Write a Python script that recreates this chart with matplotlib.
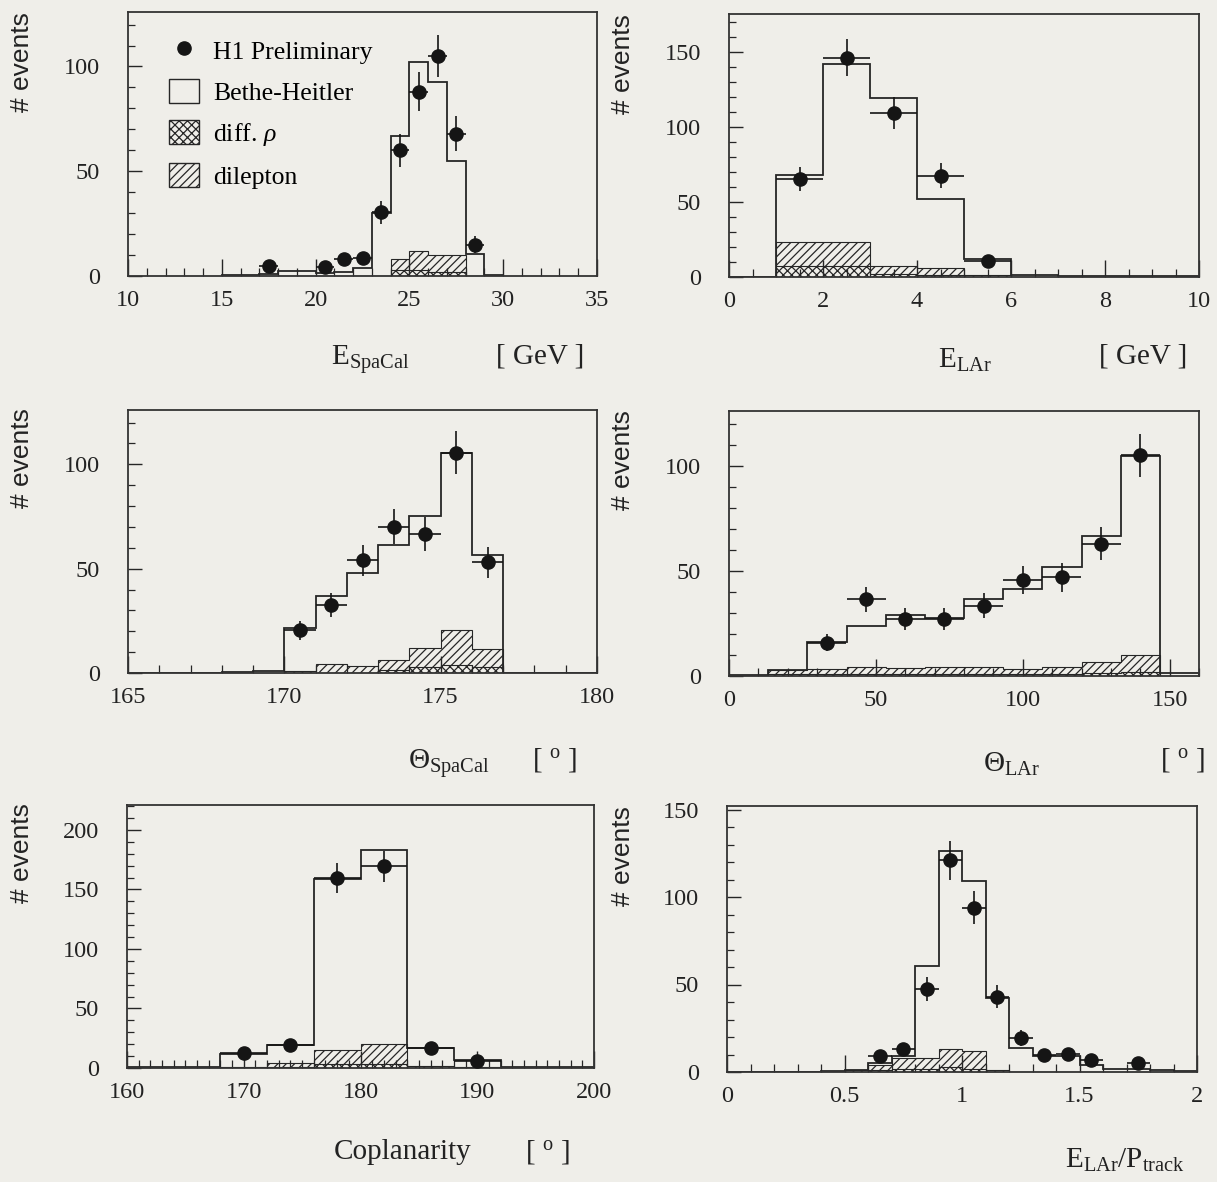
import numpy as np
import matplotlib
matplotlib.use("Agg")
import matplotlib.pyplot as plt
from matplotlib.patches import Patch
from matplotlib.lines import Line2D
from matplotlib.ticker import MultipleLocator, FormatStrFormatter

# ---- E_SpaCal [GeV] ----
espacal_edges = [15, 16, 17, 18, 19, 20, 21, 22, 23, 24, 25, 26, 27, 28, 29, 30]
espacal_mc = [0.5, 0.5, 1, 2.5, 2.5, 1.5, 2, 4, 30, 67, 102, 92.5, 55, 10.5, 0.5]
espacal_dilep = [0, 0, 0, 0, 0, 0, 0, 0, 0, 5, 9, 8, 8, 0, 0]
espacal_rho = [0, 0, 0, 0, 0, 0, 0, 0, 0, 3, 3, 2, 2, 0, 0]
espacal_x = [17.5, 20.5, 21.5, 22.5, 23.5, 24.5, 25.5, 26.5, 27.5, 28.5]
espacal_data = [5, 4.5, 8, 8.5, 30.5, 60, 88, 105, 68, 15]

# ---- E_LAr [GeV] ----
elar_edges = [0, 1, 2, 3, 4, 5, 6, 7, 8, 9, 10]
elar_mc = [0, 68, 142, 119, 52, 12, 1, 0.5, 0.5, 0.5]
elar_dilep = [0, 16, 16, 5, 5, 1, 0, 0, 0, 0]
elar_rho = [0, 7, 7, 2, 1, 0, 0, 0, 0, 0]
elar_x = [1.5, 2.5, 3.5, 4.5, 5.5]
elar_data = [65, 146, 109, 67.5, 10.5]

# ---- Theta_SpaCal [deg] ----
thspa_edges = [165, 166, 167, 168, 169, 170, 171, 172, 173, 174, 175, 176, 177, 178, 179, 180]
thspa_mc = [0, 0, 0, 0.5, 1, 21.5, 37, 48, 61.5, 75, 105.5, 56.5, 0, 0, 0]
thspa_dilep = [0, 0, 0, 0, 0, 1, 4.5, 3.5, 4.5, 9, 16.5, 8.5, 0, 0, 0]
thspa_rho = [0, 0, 0, 0, 0, 0, 0, 0, 1.5, 3, 4, 3, 0, 0, 0]
thspa_x = [170.5, 171.5, 172.5, 173.5, 174.5, 175.5, 176.5]
thspa_data = [20.5, 32.5, 54, 70, 66.5, 105.5, 53]

# ---- Theta_LAr [deg] ----
thlar_edges = [0, 13.33, 26.67, 40, 53.33, 66.67, 80, 93.33, 106.67, 120, 133.33, 146.67, 160]
thlar_mc = [0.5, 3, 16.3, 23.7, 29, 27.5, 36.8, 41.6, 51.8, 66.8, 104.5, 1.5]
thlar_dilep = [0, 2, 2.5, 3.5, 3, 3.5, 3.5, 2.5, 3.5, 5, 8, 0]
thlar_rho = [0, 1, 1, 1, 1, 1, 1, 1, 1, 1.5, 2, 0]
thlar_x = [33.33, 46.67, 60, 73.33, 86.67, 100, 113.33, 126.67, 140]
thlar_data = [15.8, 36.5, 27, 27, 33.5, 45.5, 47, 63, 105]

# ---- Coplanarity [deg] ----
copl_edges = [160, 164, 168, 172, 176, 180, 184, 188, 192, 196, 200]
copl_mc = [0.5, 0.5, 12, 19, 158.5, 183, 16.5, 7, 1, 0.5]
copl_dilep = [0, 0, 1, 3, 12, 17.5, 2, 1, 0, 0]
copl_rho = [0, 0, 0, 1, 3, 3, 0, 0, 0, 0]
copl_x = [170, 174, 178, 182, 186, 190]
copl_data = [12.5, 19, 160, 169.5, 16.5, 5.5]

# ---- E_LAr / P_track ----
ep_edges = [0, 0.1, 0.2, 0.3, 0.4, 0.5, 0.6, 0.7, 0.8, 0.9, 1.0,
            1.1, 1.2, 1.3, 1.4, 1.5, 1.6, 1.7, 1.8, 1.9, 2.0]
ep_mc = [0, 0, 0, 0, 0.5, 1, 5, 9, 60.5, 126.5, 109, 42.5, 13.5, 9, 9, 4, 2, 1.5, 1, 0.5]
ep_dilep = [0, 0, 0, 0, 0, 1, 3, 6, 6, 10, 10, 1, 0, 0, 0, 0, 0, 0, 0, 0]
ep_rho = [0, 0, 0, 0, 0, 0, 1, 2, 2, 3, 2, 0, 0, 0, 0, 0, 0, 0, 0, 0]
ep_x = [0.65, 0.75, 0.85, 0.95, 1.05, 1.15, 1.25, 1.35, 1.45, 1.55, 1.75]
ep_data = [9, 13, 47.5, 121, 94, 43, 19.5, 10, 10.5, 7, 5.3]

BG = "#efeee9"
INK = "#262626"
W, H = 1217, 1182

plt.rcParams["font.family"] = ["Liberation Serif", "DejaVu Serif"]
plt.rcParams["mathtext.fontset"] = "custom"
plt.rcParams["mathtext.rm"] = "Liberation Serif"
plt.rcParams["mathtext.it"] = "Liberation Serif:italic"
plt.rcParams["hatch.linewidth"] = 0.9
plt.rcParams["hatch.color"] = INK

fig = plt.figure(figsize=(W / 100, H / 100), dpi=100, facecolor=BG)


def px_axes(left, top, right, bottom):
    # axes box given in picture pixels
    return fig.add_axes([left / W, 1 - bottom / H, (right - left) / W, (bottom - top) / H])


def draw_panel(ax, edges, mc, dilep, rho, xd, yd, xlim, ylim, xmaj, xmin, ymin=10):
    ax.set_facecolor(BG)
    edges = np.array(edges)
    mc = np.array(mc)
    dilep = np.array(dilep)
    rho = np.array(rho)
    # dilepton (stacked on diff. rho), then diff. rho on the bottom
    ax.stairs(dilep + rho, edges, fill=True, facecolor="none", edgecolor=INK,
              hatch="////", linewidth=0.8)
    ax.stairs(rho, edges, fill=True, facecolor=BG, edgecolor=INK,
              hatch="xxxx", linewidth=0.8)
    # total (Bethe-Heitler) histogram
    ax.stairs(mc, edges, baseline=0, color=INK, linewidth=1.3)

    # data points, x error = half bin
    xd = np.array(xd)
    yd = np.array(yd)
    idx = np.searchsorted(edges, xd) - 1
    half = (edges[idx + 1] - edges[idx]) / 2
    ax.errorbar(xd, yd, yerr=np.sqrt(yd), xerr=half, fmt="o", color="#151515",
                ms=9.5, elinewidth=1.2, capsize=0, zorder=5)

    ax.set_xlim(*xlim)
    ax.set_ylim(*ylim)
    ax.xaxis.set_major_locator(MultipleLocator(xmaj))
    ax.xaxis.set_minor_locator(MultipleLocator(xmin))
    ax.xaxis.set_major_formatter(FormatStrFormatter("%g"))
    ax.yaxis.set_major_locator(MultipleLocator(50))
    ax.yaxis.set_minor_locator(MultipleLocator(ymin))
    ax.tick_params(which="both", direction="in", top=False, right=False,
                   colors=INK, labelsize=17.5, labelcolor="#222222")
    ax.tick_params(axis="x", which="major", length=12, width=1.0, pad=10)
    ax.tick_params(axis="x", which="minor", length=6, width=0.9)
    ax.tick_params(axis="y", which="major", length=10, width=1.0, pad=20)
    ax.tick_params(axis="y", which="minor", length=5, width=0.9)
    for s in ax.spines.values():
        s.set_color("#333333")
        s.set_linewidth(1.3)


def label(x, y, txt, size=20, **kw):
    fig.text(x / W, 1 - y / H, txt, fontsize=size, color="#222222",
             ha="center", va="center", **kw)


def ylabel(x, top):
    fig.text(x / W, 1 - top / H, "# events", rotation=90, fontsize=19,
             family=["Liberation Sans", "DejaVu Sans"], color="#222222",
             ha="center", va="top")


# left column 128..597, right column 729..1199
ax1 = px_axes(128, 12, 597, 276)
draw_panel(ax1, espacal_edges, espacal_mc, espacal_dilep, espacal_rho,
           espacal_x, espacal_data, (10, 35), (0, 126), 5, 1)
ax2 = px_axes(729, 14, 1199, 277)
draw_panel(ax2, elar_edges, elar_mc, elar_dilep, elar_rho,
           elar_x, elar_data, (0, 10), (0, 175), 2, 0.5)
ax3 = px_axes(128, 410, 597, 673)
draw_panel(ax3, thspa_edges, thspa_mc, thspa_dilep, thspa_rho,
           thspa_x, thspa_data, (165, 180), (0, 126), 5, 1)
ax4 = px_axes(729, 411, 1199, 676)
draw_panel(ax4, thlar_edges, thlar_mc, thlar_dilep, thlar_rho,
           thlar_x, thlar_data, (0, 160), (0, 126), 50, 10)
ax5 = px_axes(127, 805, 594, 1068)
draw_panel(ax5, copl_edges, copl_mc, copl_dilep, copl_rho,
           copl_x, copl_data, (160, 200), (0, 221), 10, 1)
ax6 = px_axes(727, 806, 1197, 1072)
draw_panel(ax6, ep_edges, ep_mc, ep_dilep, ep_rho,
           ep_x, ep_data, (0, 2), (0, 152), 0.5, 0.1)

# legend in the first panel
handles = [
    Line2D([], [], marker="o", ls="none", color="#151515", ms=9.5),
    Patch(facecolor="none", edgecolor=INK, linewidth=1.0),
    Patch(facecolor=BG, edgecolor=INK, hatch="xxxx", linewidth=1.0),
    Patch(facecolor="none", edgecolor=INK, hatch="////", linewidth=1.0),
]
names = ["H1 Preliminary", "Bethe-Heitler", r"diff. $\rho$", "dilepton"]
ax1.legend(handles, names, loc="upper left", bbox_to_anchor=(0.055, 0.96),
           frameon=False, fontsize=18.5, handlelength=1.15, handleheight=1.05,
           labelspacing=0.6, handletextpad=0.55, borderaxespad=0.2)

# axis titles
ylabel(22, 12)
ylabel(623, 14)
ylabel(22, 408)
ylabel(623, 410)
ylabel(22, 803)
ylabel(623, 806)

label(370, 360, r"E$_{\rm SpaCal}$", size=21)
label(540, 357, "[ GeV ]", size=21)
label(965, 360, r"E$_{\rm LAr}$", size=21)
label(1143, 357, "[ GeV ]", size=21)
label(449, 764, r"$\Theta_{\rm SpaCal}$", size=21)
label(554, 760, r"[ $^{\rm o}$ ]", size=21)
label(1012, 764, r"$\Theta_{\rm LAr}$", size=21)
label(1182, 760, r"[ $^{\rm o}$ ]", size=21)
label(403, 1152, "Coplanarity", size=21)
label(547, 1152, r"[ $^{\rm o}$ ]", size=21)
label(1125, 1160, r"E$_{\rm LAr}$/P$_{\rm track}$", size=21)

fig.savefig("out.png", dpi=100, facecolor=BG)
